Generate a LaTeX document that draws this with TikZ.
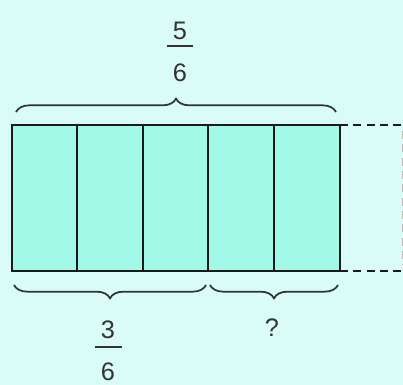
\documentclass[tikz,border=0pt]{standalone}
\usepackage{fontspec}
\setmainfont{Liberation Sans}
\usetikzlibrary{decorations.pathreplacing}
\definecolor{Sky}{HTML}{D9FCF6}
\definecolor{Aqua}{HTML}{A2F9E8}
\definecolor{Ink}{HTML}{1A1A1A}
\definecolor{Slate}{HTML}{333333}
\tikzset{
  digit/.style={inner sep=0pt,font=\fontsize{19}{21}\selectfont,text=Slate},
  bracket/.style={decorate,decoration={brace,amplitude=10pt},draw=Slate,line width=1.3pt},
  cell/.style={fill=Aqua,draw=Ink,line width=2pt},
  guide/.style={draw=Ink,line width=2pt,dash pattern=on 6pt off 4pt},
}
\begin{document}
\begin{tikzpicture}[x=0.75pt,y=-0.75pt]
    \fill[Sky] (0,0) rectangle (403,385);
    \useasboundingbox (0,0) rectangle (403,385);
    % cells
    \foreach \i/\xa/\xb in {1/12/77,2/77/143,3/143/208,4/208/274,5/274/340}
      \draw[cell] (\xa,125) rectangle (\xb,271);
    % dashed continuation
    \coordinate (tr) at (340,125);
    \coordinate (br) at (340,271);
    \coordinate (tr2) at (403,125);
    \coordinate (br2) at (403,271);
    \draw[guide] (tr)--(tr2);
    \draw[guide] (br)--(br2);
    \draw[guide,draw=Ink!30] (403,131)--(403,265);
    % braces
    \draw[bracket] (16,112)--(336,112);
    \draw[bracket] (206,285)--(14,285);
    \draw[bracket] (338,285)--(210,285);
    % labels
    \node[digit] (num5) at (180,30.5) {5};
    \node[digit] (den6) at (180,73) {6};
    \draw[Slate,line width=1.8pt] (167,46)--(193,46);
    \node[digit] (num3) at (108,330) {3};
    \node[digit] (den3) at (108,372) {6};
    \draw[Slate,line width=1.8pt] (95,347)--(122,347);
    \node[digit] (ask) at (272,328) {?};
\end{tikzpicture}
\end{document}
